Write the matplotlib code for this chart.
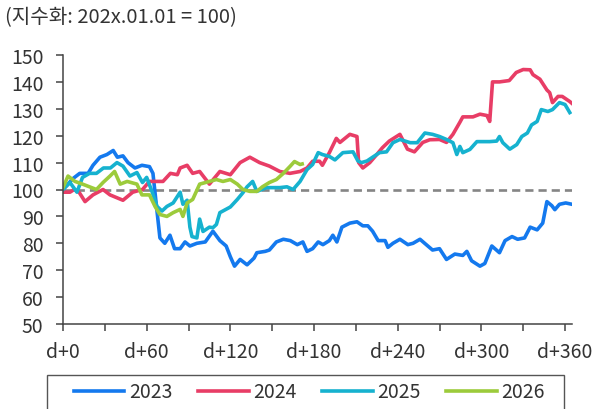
import matplotlib
matplotlib.use("Agg")
import matplotlib.pyplot as plt
from matplotlib.patches import Rectangle

plt.rcParams['font.family'] = ['Noto Sans CJK KR', 'DejaVu Sans']
plt.rcParams['font.weight'] = 'light'

# 기준일 대비 경과일(d+), 지수화 값 (시작일 = 100)
days_2023 = [0, 3.6, 7, 12, 18, 21.5, 26.5, 31.5, 36, 39, 43, 46.6, 51.6, 56.6, 62, 64.5, 67.4, 69.5,
             73, 76.7, 80, 84, 87.5, 91, 96, 102, 107.5, 112.5, 117, 120, 123, 127, 132, 137, 139,
             145, 148, 153, 158, 163, 168, 172, 175, 179, 183, 186.4, 191, 193.5, 196.4, 200, 205.7,
             210.8, 215, 218.6, 222, 226, 231, 233, 236.6, 241.6, 247.3, 251, 256, 261.6, 265, 270,
             275, 281, 286.7, 289.6, 293, 299, 302.5, 307.5, 313, 317, 322, 326, 331, 335, 340, 344,
             347, 350.5, 352.7, 356, 360.5, 365]
vals_2023 = [100, 102, 104, 106, 106, 109, 112, 113, 114.5, 112, 112.5, 110, 108, 109, 108.5, 106, 92, 82,
             80, 83, 78, 78, 80.5, 79, 80, 80.5, 84.5, 81, 79, 75, 71.5, 74, 72, 74.5, 76.5,
             77, 77.5, 80.5, 81.5, 81, 79.5, 80.5, 77, 78, 80.5, 79.5, 81, 83, 80.5, 86, 87.5,
             88, 86.5, 86.5, 84.5, 81, 81, 78.5, 80, 81.5, 79.5, 80, 81.5, 79, 77.5, 78,
             74, 76, 75.5, 77, 73.5, 71.5, 72.5, 79, 76.5, 81, 82.5, 81.5, 82, 86, 85, 87.5,
             95.5, 94, 92.5, 94.5, 95, 94.5]

days_2024 = [0, 5, 8, 11.5, 15.8, 21.5, 28.7, 33.7, 43, 50, 57, 62, 66.7, 71.7, 77, 82, 84, 89, 93, 98,
             105, 112.5, 120, 127, 134, 141, 148, 155.5, 162.7, 170, 175, 179, 184, 186, 191, 196,
             198.6, 205.7, 210.8, 212, 215, 220, 225, 229, 234, 241.6, 247, 252, 258, 263, 270, 275,
             279.6, 284.6, 286.7, 294, 299, 304, 306, 308, 313, 320, 325, 330, 335, 337, 342, 347,
             349, 351, 355, 358, 363.4, 365]
vals_2024 = [99, 99, 100, 99, 95.5, 98, 100, 98, 96, 99, 100, 103, 103, 103, 106, 105.5, 108, 109, 106, 106.7,
             102, 106.7, 105.5, 110, 112, 110, 108.7, 106.7, 106, 106.7, 108, 110.5, 110.5, 109, 113.7, 119,
             117.5, 120.5, 119.7, 110, 108, 110, 113, 115.5, 118, 120.5, 115, 114, 117.5, 118.5, 118.6, 117.5,
             120.5, 125, 127, 127, 128, 127.5, 125.3, 140, 140, 140.5, 143.5, 144.6, 144.5, 142.7, 141, 137,
             136, 132.3, 134.6, 134.6, 132.7, 132]

days_2025 = [0, 5, 10, 14, 19, 24, 29, 34, 38.7, 43, 48, 53, 57, 60, 64, 67.4, 71, 74.5, 79, 84, 86, 89,
             91, 92.5, 96, 98, 100.4, 105, 107.5, 110, 112.5, 120, 125, 129, 132, 136, 139, 146, 155.5,
             160.6, 165, 170, 175, 179, 183, 186, 191, 195, 200.7, 208, 211.5, 214, 218, 222, 227, 232,
             236.6, 241.6, 249, 254, 259.5, 265, 270, 275, 279.6, 282.4, 284.6, 286.7, 291.8, 296.8, 306,
             311, 313, 315.4, 320.4, 325.4, 329, 333, 336, 340, 343, 347.7, 351, 356, 360, 363.4]
vals_2025 = [100, 102.6, 99, 104.5, 106, 106, 108, 108, 110, 108.7, 105, 106.3, 102.6, 104.5, 99, 93.7, 92, 93.7, 95, 99, 94.5, 96,
             86, 82.5, 82, 89, 84.4, 86, 85.8, 87, 91.4, 93.5, 96.3, 98.8, 101, 103, 99.3, 100.7, 100.7,
             101, 100, 103, 107.4, 109.3, 113.7, 113, 112.3, 111, 113.7, 114, 110.6, 110, 110.6, 112, 113.7, 114,
             117.4, 118.6, 117.4, 117.4, 121, 120.5, 119.7, 118.6, 117.4, 113, 116, 113.7, 114.9, 117.8, 117.8,
             118, 119.7, 117.4, 115, 116.7, 119.7, 121, 124, 125.3, 129.7, 129, 129.7, 132.3, 131.6, 128.6]

days_2026 = [0, 3.6, 8.6, 14, 19, 24, 28.7, 33.7, 37, 41, 46, 53, 56.6, 62, 66, 69.5, 74.5, 79, 84, 86,
             89, 93, 98, 105, 110, 114.7, 120, 125, 129, 134, 139, 143, 148, 153, 158, 163, 166, 170, 171.5]
vals_2026 = [100.7, 105, 103, 102, 101, 100, 102.6, 105, 106.7, 102, 103, 102, 98, 98, 93.7, 90.7, 90, 91.4, 92.6, 90,
             95, 96.3, 102, 103, 103.7, 103, 103.7, 102, 100, 99.3, 99.3, 101, 102.6, 103.7, 106, 108.7, 110.4, 109.3, 109.5]

series = [
    ('2023', days_2023, vals_2023, '#1479ee'),
    ('2024', days_2024, vals_2024, '#e83d66'),
    ('2025', days_2025, vals_2025, '#16b2cf'),
    ('2026', days_2026, vals_2026, '#9ccb3b'),
]

fig = plt.figure(figsize=(5.98, 4.10), dpi=100)
ax = fig.add_axes([63 / 598, 1 - 325 / 410, (572 - 63) / 598, (325 - 56) / 410])

ax.axhline(100, color='#858585', lw=1.9, ls=(0, (3.1, 1.9)), zorder=1)
for name, d, v, c in series:
    ax.plot(d, v, color=c, lw=2.6, label=name, zorder=2, solid_joinstyle='round')

ax.set_xlim(0, 365)
ax.set_ylim(50, 150)
ax.set_yticks(range(50, 151, 10))
ax.set_xticks(range(0, 361, 30))
ax.set_xticklabels([f'd+{x}' if x % 60 == 0 else '' for x in range(0, 361, 30)])

for s in ['top', 'right']:
    ax.spines[s].set_visible(False)
for s in ['left', 'bottom']:
    ax.spines[s].set_color('#444444')
    ax.spines[s].set_linewidth(1.1)
ax.tick_params(axis='both', colors='#444444', labelcolor='#333333', labelsize=14, length=5, width=1.1)
ax.tick_params(axis='y', pad=9)
ax.tick_params(axis='x', pad=7)

fig.text(0.008, 1 - 18 / 410, '(지수화: 202x.01.01 = 100)', fontsize=14.5, color='#333333', va='center', ha='left')

fig.legend(loc='center', bbox_to_anchor=(309.5 / 598, 1 - 393 / 410), ncol=4, frameon=False,
           fontsize=14, handlelength=2.6, handletextpad=0.25, columnspacing=1.3, labelcolor='#333333')
fig.patches.append(Rectangle((47 / 598, -0.05), (564 - 47) / 598, 0.05 + (410 - 376) / 410,
                             transform=fig.transFigure, fill=False, edgecolor='#555555', lw=1.0))

fig.savefig('out.png', dpi=100)
